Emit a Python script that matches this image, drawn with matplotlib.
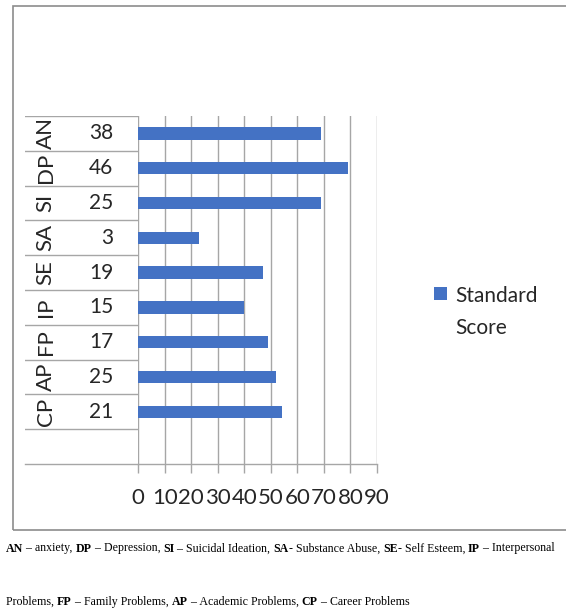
import matplotlib
matplotlib.use("Agg")
import matplotlib.pyplot as plt
from matplotlib.patches import Rectangle

# Scale codes, raw scores and standard scores (top to bottom)
codes = ["AN", "DP", "SI", "SA", "SE", "IP", "FP", "AP", "CP"]
raw_scores = [38, 46, 25, 3, 19, 15, 17, 25, 21]
standard_scores = [69, 79, 69, 23, 47, 40, 49, 52, 54]
series_name = "Standard Score"
x_ticks = [0, 10, 20, 30, 40, 50, 60, 70, 80, 90]

caption_line1 = [("AN", True), (" – anxiety, ", False), ("DP", True), (" – Depression, ", False),
                 ("SI", True), (" – Suicidal Ideation, ", False), ("SA", True), ("- Substance Abuse, ", False),
                 ("SE", True), ("- Self Esteem, ", False), ("IP", True), (" – Interpersonal", False)]
caption_line2 = [("Problems, ", False), ("FP", True), (" – Family Problems, ", False), ("AP", True),
                 (" – Academic Problems, ", False), ("CP", True), (" – Career Problems", False)]

W, H = 566, 611
BAR = "#4472C4"
GRID = "#a6a6a6"
FONT = "Lato"
FS = 15

fig = plt.figure(figsize=(W / 100, H / 100), dpi=100)


def fx(px):
    return px / W


def fy(py):
    return 1 - py / H


# plot area and category label area share the same vertical extent
top, bottom = 116, 464
left, right = 138.3, 377
lab_left = 25
ax = fig.add_axes([fx(left), fy(bottom), fx(right - left), (bottom - top) / H])
ax_lab = fig.add_axes([fx(lab_left), fy(bottom), fx(left - lab_left), (bottom - top) / H])

n = len(codes)
ypos = [n - i for i in range(n)]  # AN at top, an empty slot at the bottom
ylim = (-0.5, n + 0.5)

ax.barh(ypos, standard_scores, height=0.36, color=BAR, zorder=3)
ax.set_xlim(0, 90)
ax.set_ylim(*ylim)
ax.set_xticks(x_ticks)
ax.set_xticklabels([str(t) for t in x_ticks], fontfamily=FONT, fontsize=FS + 1, color="#262626")
ax.set_yticks([])
ax.grid(axis="x", color=GRID, lw=1.0, zorder=0)
for s in ["top", "right", "left"]:
    ax.spines[s].set_visible(False)
ax.spines["bottom"].set_color(GRID)
ax.spines["bottom"].set_linewidth(1.0)
ax.tick_params(axis="x", direction="out", length=6.5, width=1.0, color=GRID, pad=11)

# category labels: outer level rotated codes, inner level raw scores
ax_lab.set_xlim(0, 1)
ax_lab.set_ylim(*ylim)
ax_lab.axis("off")
for k in range(n + 1):
    ax_lab.axhline(k + 0.5, color=GRID, lw=1.0, xmin=0, xmax=1)
ax_lab.axhline(-0.5, color=GRID, lw=1.0, xmin=0, xmax=1, clip_on=False)
for y, code, raw in zip(ypos, codes, raw_scores):
    ax_lab.text((45.7 - lab_left) / (left - lab_left), y, code, rotation=90,
                ha="center", va="center", fontfamily=FONT, fontsize=FS + 1, color="#262626")
    ax_lab.text((113.5 - lab_left) / (left - lab_left), y, str(raw),
                ha="right", va="center", fontfamily=FONT, fontsize=FS, color="#262626")

# legend
fig.patches.append(Rectangle((fx(434), fy(300)), fx(12.5), 13 / H, transform=fig.transFigure,
                             facecolor=BAR, edgecolor="none"))
name_lines = series_name.split(" ")
fig.text(fx(455), fy(301.5), name_lines[0], ha="left", va="baseline",
         fontfamily=FONT, fontsize=FS, color="#262626")
fig.text(fx(455), fy(334), name_lines[1], ha="left", va="baseline",
         fontfamily=FONT, fontsize=FS, color="#262626")

# chart border
fig.patches.append(Rectangle((fx(12.5), fy(530)), fx(W), (530 - 5.5) / H, transform=fig.transFigure,
                             fill=False, edgecolor="#8c8c8c", lw=1.2))


def caption(parts, x_px, base_px, size=8.6):
    """Write a line of mixed bold/regular text, each piece following the previous one."""
    t = fig.text(fx(x_px), fy(base_px), parts[0][0], ha="left", va="baseline",
                 fontfamily="Liberation Serif", fontsize=size,
                 fontweight="bold" if parts[0][1] else "normal")
    for s, bold in parts[1:]:
        t = ax.annotate(s, xy=(1, 0), xycoords=t, ha="left", va="bottom",
                        fontfamily="Liberation Serif", fontsize=size,
                        fontweight="bold" if bold else "normal", annotation_clip=False)


caption(caption_line1, 6, 551.5)
caption(caption_line2, 6, 605)

fig.savefig("out.png", dpi=100)
